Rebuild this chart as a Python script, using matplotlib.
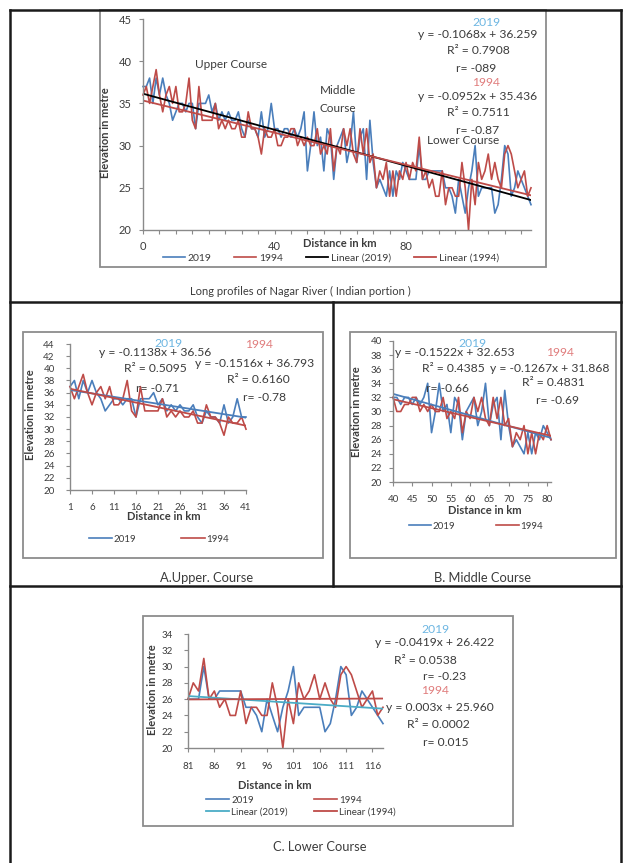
import numpy as np
import matplotlib
matplotlib.use('Agg')
import matplotlib.pyplot as plt
from matplotlib.lines import Line2D
from matplotlib.patches import Rectangle

plt.rcParams['font.family'] = ['Lato', 'DejaVu Sans']

# ---------------- data ----------------
km = list(range(0, 119))
elev_2019 = [37,
             37, 38, 35, 38, 36, 38, 36, 35, 33, 34,
             35, 35, 34, 35, 35, 32, 35, 35, 35, 36,
             34, 35, 33, 34, 33, 34, 33, 33, 34, 32,
             31, 33, 32, 32, 31, 34, 31, 32, 35, 32,
             32, 31, 32, 32, 31, 32, 31, 32, 34, 27,
             30, 34, 30, 31, 27, 32, 31, 26, 30, 31,
             32, 28, 30, 34, 28, 31, 32, 26, 33, 28,
             25, 26, 25, 24, 27, 24, 27, 26, 28, 27,
             26, 26, 26, 30, 26, 26, 27, 27, 27, 27,
             27, 25, 25, 24, 22, 26, 24, 22, 25, 27,
             30, 24, 25, 25, 25, 25, 22, 23, 26, 30,
             29, 24, 25, 27, 26, 25, 24, 23]
elev_1994 = [36,
             37, 35, 37, 39, 36, 34, 36, 37, 35, 37,
             34, 34, 35, 38, 33, 32, 37, 33, 33, 33,
             33, 35, 32, 33, 32, 33, 32, 32, 33, 31,
             31, 34, 32, 32, 31, 29, 32, 31, 31, 32,
             30, 30, 31, 31, 32, 32, 30, 31, 30, 31,
             30, 30, 32, 29, 30, 29, 32, 27, 30, 29,
             32, 30, 32, 29, 28, 32, 29, 32, 28, 29,
             25, 27, 26, 28, 24, 27, 24, 27, 26, 28,
             26, 28, 27, 31, 26, 27, 25, 26, 24, 24,
             27, 23, 25, 25, 24, 24, 28, 25, 20, 26,
             23, 28, 26, 27, 29, 26, 28, 26, 25, 29,
             30, 29, 27, 25, 26, 27, 24, 25]

# section ranges (km, inclusive)
sections = {'full': (0, 118), 'upper': (1, 41), 'middle': (40, 81), 'lower': (81, 118)}
# Excel trend lines y = m*i + b, i = 1..n
trend_2019 = {'full': (-0.1068, 36.259), 'upper': (-0.1138, 36.56),
              'middle': (-0.1522, 32.653), 'lower': (-0.0419, 26.422)}
trend_1994 = {'full': (-0.0952, 35.436), 'upper': (-0.1516, 36.793),
              'middle': (-0.1267, 31.868), 'lower': (0.003, 25.960)}
eq_2019 = {'full': ['y = -0.1068x + 36.259', 'R\u00b2 = 0.7908', 'r= -089'],
           'upper': ['y = -0.1138x + 36.56', 'R\u00b2 = 0.5095', 'r= -0.71'],
           'middle': ['y = -0.1522x + 32.653', 'R\u00b2 = 0.4385', 'r= -0.66'],
           'lower': ['y = -0.0419x + 26.422', 'R\u00b2 = 0.0538', 'r= -0.23']}
eq_1994 = {'full': ['y = -0.0952x + 35.436', 'R\u00b2 = 0.7511', 'r= -0.87'],
           'upper': ['y = -0.1516x + 36.793', 'R\u00b2 = 0.6160', 'r= -0.78'],
           'middle': ['y = -0.1267x + 31.868', 'R\u00b2 = 0.4831', 'r= -0.69'],
           'lower': ['y = 0.003x + 25.960', 'R\u00b2 = 0.0002', 'r= 0.015']}

# ---------------- styling ----------------
C19 = '#4A7EBB'
C94 = '#BE4B48'
CLIN19_LOW = '#4BACC6'
LBL19 = '#6DB6E2'
LBL94 = '#E07C7C'
TXT = '#3c3c3c'
AX = '#8a8a8a'
EQ = 8.7

W, H = 624, 863
fig = plt.figure(figsize=(W / 100, H / 100), dpi=100)


def fx(x):
    return x / W


def fy(y):
    return 1 - y / H


def ax_px(x0, y0, x1, y1):
    return fig.add_axes([fx(x0), fy(y1), (x1 - x0) / W, (y1 - y0) / H])


def txt(x, y, s, size=EQ, color=TXT, **kw):
    fig.text(fx(x), fy(y), s, fontsize=size, color=color, ha='center', va='center', **kw)


def frame_line(x0, y0, x1, y1, lw=1.8, color='#1a1a1a'):
    fig.add_artist(Line2D([fx(x0), fx(x1)], [fy(y0), fy(y1)], lw=lw, color=color,
                          transform=fig.transFigure))


def box(x0, y0, x1, y1):
    fig.add_artist(Rectangle((fx(x0), fy(y1)), (x1 - x0) / W, (y1 - y0) / H, fill=False,
                             lw=1.3, edgecolor='#8c8c8c', transform=fig.transFigure))


def style_axes(ax, tick_size):
    for s in ['top', 'right']:
        ax.spines[s].set_visible(False)
    for s in ['left', 'bottom']:
        ax.spines[s].set_color(AX)
        ax.spines[s].set_linewidth(1.0)
    ax.tick_params(axis='both', direction='out', length=3, width=0.8, color=AX,
                   labelsize=tick_size, labelcolor=TXT)
    ax.set_facecolor('none')


def series(name):
    a, b = sections[name]
    x = km[a:b + 1]
    return x, elev_2019[a:b + 1], elev_1994[a:b + 1]


def trend(name, coef, x):
    m, b = coef[name]
    idx = np.arange(1, len(x) + 1)
    return m * idx + b


# ---------------- frame ----------------
frame_line(9.5, 10, 9.5, 863)
frame_line(621, 10, 621, 863)
frame_line(9.5, 10, 621, 10)
frame_line(9.5, 302, 621, 302)
frame_line(9.5, 586, 621, 586)
frame_line(333, 302, 333, 586)

# ---------------- top chart ----------------
box(100, 10, 546, 267)
ax = ax_px(143, 19, 531, 230)
x, y19, y94 = series('full')
l1, = ax.plot(x, y19, color=C19, lw=1.2, label='2019', clip_on=False)
l2, = ax.plot(x, y94, color=C94, lw=1.2, label='1994', clip_on=False)
l3, = ax.plot(x, trend('full', trend_2019, x), color='black', lw=1.3, label='Linear (2019)')
l4, = ax.plot(x, trend('full', trend_1994, x), color=C94, lw=1.3, label='Linear (1994)')
ax.set_xlim(0, 118)
ax.set_ylim(20, 45)
ax.set_yticks(np.arange(20, 46, 5))
ax.set_xticks(np.arange(0, 119, 5))
ax.set_xticklabels([str(v) if v % 40 == 0 else '' for v in np.arange(0, 119, 5)])
style_axes(ax, 8)
ax.tick_params(axis='x', pad=5)
ax.tick_params(axis='y', pad=5)
ax.legend(handles=[l1, l2, l3, l4], loc='center', bbox_to_anchor=(fx(331), fy(258)),
          bbox_transform=fig.transFigure, ncol=4, frameon=False, fontsize=7.5,
          handlelength=2.1, handletextpad=0.3, columnspacing=2.2, labelcolor=TXT)
txt(340, 243, 'Distance in km', size=8, fontweight='bold')
fig.text(fx(105), fy(133), 'Elevation in metre', rotation=90, fontsize=8, fontweight='bold',
         color=TXT, ha='center', va='center')
txt(486, 23, '2019', color=LBL19)
for i, s in enumerate(eq_2019['full']):
    txt([478, 478, 476][i], [35, 51, 69][i], s)
txt(486, 83, '1994', color=LBL94)
for i, s in enumerate(eq_1994['full']):
    txt([478, 478, 478][i], [97, 112, 130][i], s)
txt(463, 140, 'Lower Course', size=8.5)
txt(231, 65, 'Upper Course', size=8.5)
txt(338, 90, 'Middle', size=8.5)
txt(338, 109, 'Course', size=8.5)
txt(300, 291, 'Long profiles of Nagar River ( Indian portion )', size=8)

# ---------------- upper course ----------------
box(23, 332, 323, 558)
ax = ax_px(70, 344, 246, 490)
x, y19, y94 = series('upper')
l1, = ax.plot(x, y19, color=C19, lw=1.2, label='2019', clip_on=False)
l2, = ax.plot(x, y94, color=C94, lw=1.2, label='1994', clip_on=False)
ax.plot(x, trend('upper', trend_2019, x), color=C19, lw=1.3)
ax.plot(x, trend('upper', trend_1994, x), color=C94, lw=1.3)
ax.set_xlim(1, 41)
ax.set_ylim(20, 44)
ax.set_yticks(np.arange(20, 45, 2))
ax.set_xticks(np.arange(1, 42, 5))
style_axes(ax, 7)
ax.tick_params(axis='x', pad=6)
ax.tick_params(axis='y', pad=8)
ax.legend(handles=[l1, l2], loc='center', bbox_to_anchor=(fx(159), fy(539)),
          bbox_transform=fig.transFigure, ncol=2, frameon=False, fontsize=7,
          handlelength=2.4, handletextpad=0.2, columnspacing=4.6, labelcolor=TXT)
txt(164, 517, 'Distance in km', size=8, fontweight='bold')
fig.text(fx(30), fy(415), 'Elevation in metre', rotation=90, fontsize=8, fontweight='bold',
         color=TXT, ha='center', va='center')
txt(168, 343, '2019', color=LBL19)
for i, s in enumerate(eq_2019['upper']):
    txt([155, 155, 157][i], [353, 369, 388][i], s)
txt(259, 345, '1994', color=LBL94)
for i, s in enumerate(eq_1994['upper']):
    txt([255, 258, 265][i], [363, 379, 397][i], s)
txt(207, 578, 'A.Upper. Course', size=9.3)

# ---------------- middle course ----------------
box(350, 332, 616, 558)
ax = ax_px(393, 341, 551, 482)
x, y19, y94 = series('middle')
l1, = ax.plot(x, y19, color=C19, lw=1.2, label='2019', clip_on=False)
l2, = ax.plot(x, y94, color=C94, lw=1.2, label='1994', clip_on=False)
ax.plot(x, trend('middle', trend_2019, x), color=C19, lw=1.3)
ax.plot(x, trend('middle', trend_1994, x), color=C94, lw=1.3)
ax.set_xlim(40, 81)
ax.set_ylim(20, 40)
ax.set_yticks(np.arange(20, 41, 2))
ax.set_xticks(np.arange(40, 81, 5))
style_axes(ax, 7)
ax.tick_params(axis='x', pad=6)
ax.tick_params(axis='y', pad=5)
ax.legend(handles=[l1, l2], loc='center', bbox_to_anchor=(fx(476), fy(526)),
          bbox_transform=fig.transFigure, ncol=2, frameon=False, fontsize=7,
          handlelength=2.3, handletextpad=0.2, columnspacing=4.2, labelcolor=TXT)
txt(485, 511, 'Distance in km', size=8, fontweight='bold')
fig.text(fx(357), fy(412), 'Elevation in metre', rotation=90, fontsize=8, fontweight='bold',
         color=TXT, ha='center', va='center')
txt(472, 343, '2019', color=LBL19)
txt(455, 353, eq_2019['middle'][0])
txt(453, 368, eq_2019['middle'][1])
txt(447, 388, eq_2019['middle'][2])
txt(560, 353, '1994', color=LBL94)
txt(550, 368, eq_1994['middle'][0])
txt(553, 383, eq_1994['middle'][1])
txt(557, 400, eq_1994['middle'][2])
txt(483, 578, 'B. Middle Course', size=9.3)

# ---------------- lower course ----------------
box(143, 616, 513, 826)
ax = ax_px(188, 634, 383, 748)
x, y19, y94 = series('lower')
l1, = ax.plot(x, y19, color=C19, lw=1.2, label='2019', clip_on=False)
l2, = ax.plot(x, y94, color=C94, lw=1.2, label='1994', clip_on=False)
l3, = ax.plot(x, trend('lower', trend_2019, x), color=CLIN19_LOW, lw=1.3, label='Linear (2019)')
l4, = ax.plot(x, trend('lower', trend_1994, x), color=C94, lw=1.3, label='Linear (1994)')
ax.set_xlim(81, 118)
ax.set_ylim(20, 34)
ax.set_yticks(np.arange(20, 35, 2))
ax.set_xticks(np.arange(81, 119, 5))
style_axes(ax, 7)
ax.tick_params(axis='x', pad=7)
ax.tick_params(axis='y', pad=8)
ax.legend(handles=[l1, l3, l2, l4], loc='center', bbox_to_anchor=(fx(301), fy(806)),
          bbox_transform=fig.transFigure, ncol=2, frameon=False, fontsize=7,
          handlelength=2.4, handletextpad=0.2, columnspacing=2.7, labelcolor=TXT,
          labelspacing=0.25)
txt(275, 785, 'Distance in km', size=8, fontweight='bold')
fig.text(fx(152), fy(690), 'Elevation in metre', rotation=90, fontsize=8, fontweight='bold',
         color=TXT, ha='center', va='center')
txt(435, 629, '2019', color=LBL19)
txt(435, 643, eq_2019['lower'][0])
txt(425, 660, eq_2019['lower'][1])
txt(445, 677, eq_2019['lower'][2])
txt(435, 690, '1994', color=LBL94)
txt(440, 707, eq_1994['lower'][0])
txt(438, 724, eq_1994['lower'][1])
txt(446, 742, eq_1994['lower'][2])
txt(320, 847, 'C. Lower Course', size=9.3)

fig.savefig('out.png', dpi=100)
